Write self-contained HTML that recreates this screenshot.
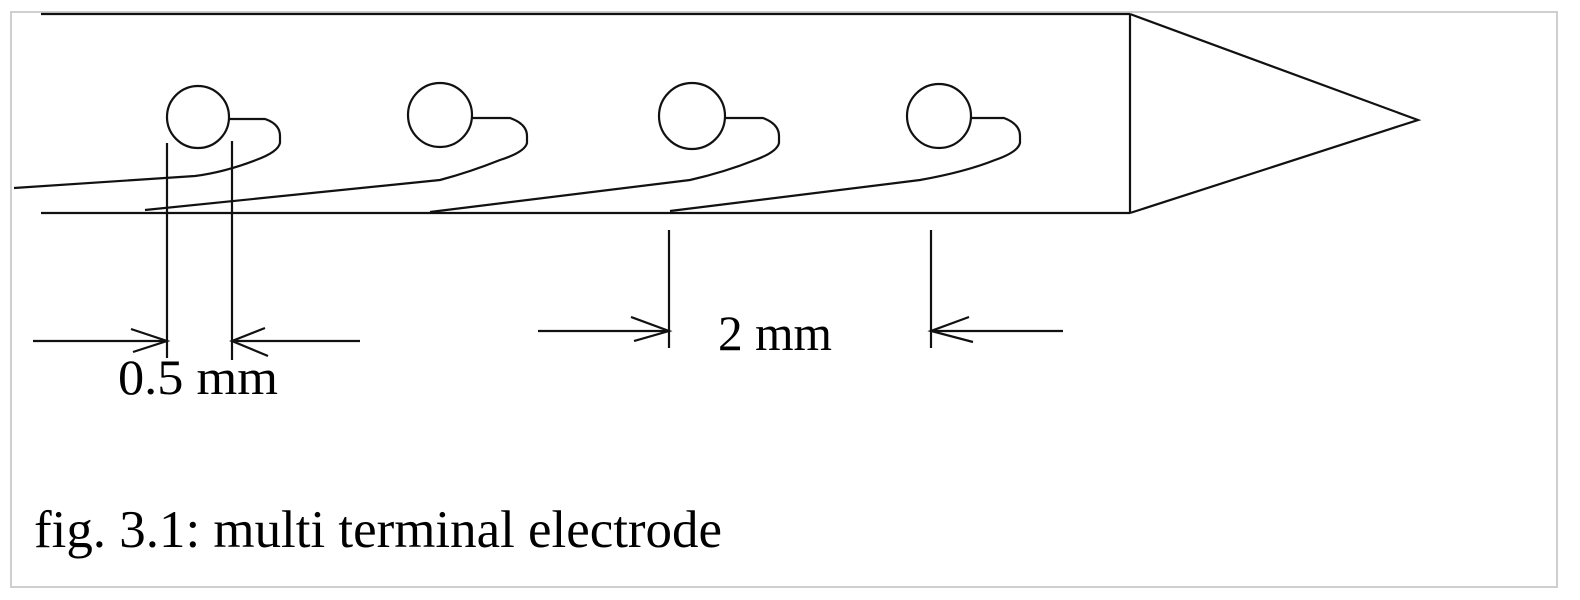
<!DOCTYPE html>
<html><head><meta charset="utf-8"><style>
html,body{margin:0;padding:0;background:#fff;width:1580px;height:600px;overflow:hidden}
svg{display:block}
text{font-family:"Liberation Serif",serif;fill:#000}
</style></head><body>
<svg width="1580" height="600" viewBox="0 0 1580 600" xmlns="http://www.w3.org/2000/svg">
<rect x="11" y="12" width="1546" height="575" fill="none" stroke="#cfcfcf" stroke-width="2"/>
<g fill="none" stroke="#111" stroke-width="2.2">
<line x1="41" y1="14" x2="1130" y2="14"/>
<line x1="41" y1="213" x2="1130" y2="213"/>
<line x1="1130" y1="14" x2="1130" y2="213"/>
<polyline points="1130,14 1418,120 1130,213"/>
<circle cx="198" cy="117" r="31"/>
<circle cx="440" cy="115" r="32"/>
<circle cx="692" cy="116" r="33"/>
<circle cx="939" cy="116" r="32"/>
<path d="M229,119 H265 Q280,124 280,136 V143 Q278,152 256,160 Q225,172 195,176 L14,188"/>
<path d="M472,118 H510 Q527,124 527,136 V143 Q525,152 500,160 Q470,172 440,180 L145,210"/>
<path d="M725,118 H763 Q779,124 779,136 V143 Q777,152 755,160 Q725,172 690,180 L430,212"/>
<path d="M971,118 H1004 Q1020,124 1020,136 V143 Q1018,152 995,160 Q965,172 920,180 L670,211"/>
<line x1="167" y1="143" x2="167" y2="358"/>
<line x1="232" y1="141" x2="232" y2="360"/>
<line x1="33" y1="341" x2="167" y2="341"/>
<line x1="232" y1="341" x2="360" y2="341"/>
<polyline points="131,329 167,341 133,352"/>
<polyline points="265,328 232,341 268,356"/>
<line x1="669" y1="230" x2="669" y2="348"/>
<line x1="931" y1="230" x2="931" y2="348"/>
<line x1="538" y1="331" x2="669" y2="331"/>
<line x1="931" y1="331" x2="1063" y2="331"/>
<polyline points="631,317 669,331 634,341"/>
<polyline points="969,317 931,331 973,342"/>
</g>
<text x="118" y="394" font-size="50" textLength="160" lengthAdjust="spacingAndGlyphs">0.5 mm</text>
<text x="718" y="350" font-size="50" textLength="114" lengthAdjust="spacingAndGlyphs">2 mm</text>
<text x="34" y="547" font-size="53" textLength="688" lengthAdjust="spacingAndGlyphs">fig. 3.1: multi terminal electrode</text>
</svg>
</body></html>
